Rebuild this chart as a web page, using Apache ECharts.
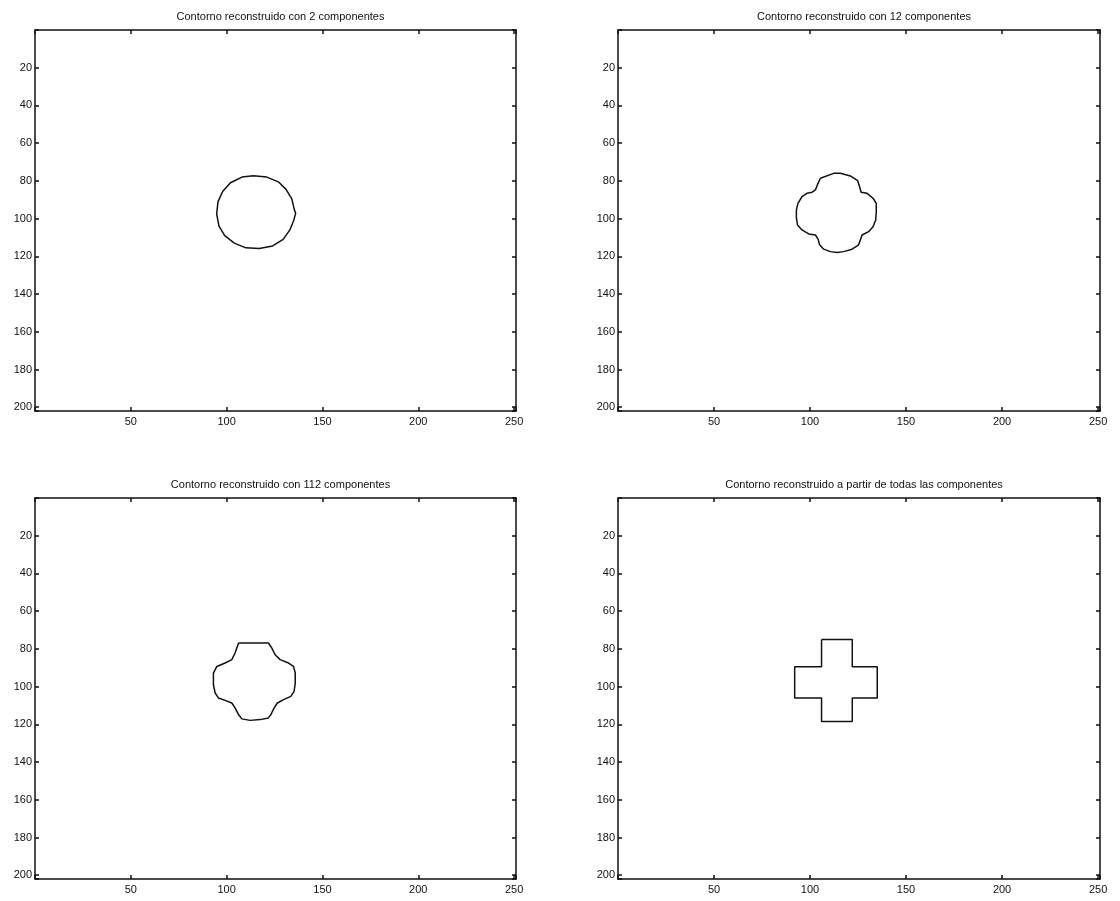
<!DOCTYPE html>
<html>
<head>
<meta charset="utf-8">
<title>Contornos reconstruidos</title>
<script src="https://cdn.jsdelivr.net/npm/echarts@6/dist/echarts.min.js"></script>
<style>
  html, body { margin: 0; padding: 0; background: #fff; }
  #chart { width: 1120px; height: 901px; }
</style>
</head>
<body>
<div id="chart"></div>
<script>
// titles of the 4 subplots
const titles = [
  'Contorno reconstruido con 2 componentes',
  'Contorno reconstruido con 12 componentes',
  'Contorno reconstruido con 112 componentes',
  'Contorno reconstruido a partir de todas las componentes'
];

// axis ranges (image coords, y goes down)
const xMin = 0, xMax = 251, xStep = 50;
const yMin = 0, yMax = 202, yStep = 20;

// contour points [x, y]
const contour2 = [
  [114, 77.3], [121, 78], [127, 80.5], [131, 84.5], [134, 89.5], [135.4, 95.5], [136, 97.2],
  [135, 101], [133, 106], [129.5, 111], [124, 114.5], [117, 115.8], [110, 115.5],
  [104, 113], [99, 109], [96, 104], [94.8, 97.5], [95.5, 91], [98, 85.5],
  [102, 81], [108, 78], [114, 77.3]
];
const contour12 = [
  [105.4, 78.6], [112.3, 76.0], [115.8, 76.0], [121.0, 77.4], [124.8, 79.9], [125.8, 83.1],
  [126.6, 86.0], [129.7, 86.6], [132.8, 89.2], [134.5, 91.9], [134.5, 96.3], [134.2, 100.7],
  [132.8, 104.3], [130.5, 106.9], [127.1, 108.7], [126.2, 111.3], [125.3, 113.9], [121.9, 116.2],
  [117.5, 117.5], [114.1, 118.0], [110.6, 117.5], [107.1, 116.2], [105.0, 113.9], [104.2, 110.9],
  [102.8, 108.7], [99.3, 108.1], [95.8, 106.0], [93.5, 103.4], [92.9, 99.8], [92.9, 95.4],
  [93.7, 91.9], [95.8, 88.4], [98.4, 86.6], [101.1, 86.0], [102.8, 84.8], [104.0, 81.7],
  [105.4, 78.6]
];
const contour112 = [
  [106.2, 76.9], [121.8, 76.9], [123.6, 79.6], [125.3, 83.1], [127.9, 85.7], [132.3, 87.5],
  [134.9, 89.3], [135.8, 92.8], [135.8, 98.1], [135.2, 102.5], [133.5, 105.2], [129.7, 106.9],
  [126.5, 108.7], [124.8, 111.3], [123.1, 114.8], [121.8, 116.6], [117.5, 117.5], [112.3, 117.9],
  [107.9, 117.1], [106.2, 114.8], [104.4, 111.3], [102.7, 108.7], [99.2, 107.3], [95.7, 106.0],
  [94.0, 103.4], [93.1, 99.0], [93.1, 92.8], [94.9, 89.3], [99.2, 87.5], [102.7, 85.7],
  [104.4, 82.2], [106.2, 76.9]
];
const contourAll = [
  [106, 75], [122, 75], [122, 89.5], [135, 89.5], [135, 106], [122, 106], [122, 118.5],
  [106, 118.5], [106, 106], [92, 106], [92, 89.5], [106, 89.5], [106, 75]
];
const contours = [contour2, contour12, contour112, contourAll];

// subplot boxes
const boxes = [
  { left: 35, top: 30, width: 481, height: 381 },
  { left: 618, top: 30, width: 482, height: 381 },
  { left: 35, top: 498, width: 481, height: 381 },
  { left: 618, top: 498, width: 482, height: 381 }
];

const font = "'Liberation Sans Narrow', 'Liberation Sans', Arial, sans-serif";
const lineStyle = { color: '#111', width: 1.5 };

const grid = [], xAxis = [], yAxis = [], title = [], series = [];

boxes.forEach((b, i) => {
  grid.push({ left: b.left, top: b.top, width: b.width, height: b.height, containLabel: false });
  title.push({
    text: titles[i],
    left: b.left + b.width / 2,
    top: b.top - 24,
    textAlign: 'center',
    textStyle: { fontFamily: font, fontSize: 11, fontWeight: 'normal', color: '#111' }
  });
  // bottom + top x axes (top one only for the ticks of the box)
  ['bottom', 'top'].forEach((pos, k) => {
    xAxis.push({
      type: 'value', gridIndex: i, position: pos,
      min: xMin, max: xMax, interval: xStep,
      axisLine: { show: true, onZero: false, lineStyle: lineStyle },
      axisTick: { show: true, inside: true, length: 4, lineStyle: lineStyle },
      axisLabel: {
        show: k === 0, margin: 5, color: '#111', fontFamily: font, fontSize: 11,
        formatter: v => (v > 0 && v % xStep === 0) ? v : ''
      },
      splitLine: { show: false }
    });
  });
  // left + right y axes
  ['left', 'right'].forEach((pos, k) => {
    yAxis.push({
      type: 'value', gridIndex: i, position: pos, inverse: true,
      min: yMin, max: yMax, interval: yStep,
      axisLine: { show: true, onZero: false, lineStyle: lineStyle },
      axisTick: { show: true, inside: true, length: 4, lineStyle: lineStyle },
      axisLabel: {
        show: k === 0, margin: 3, color: '#111', fontFamily: font, fontSize: 11,
        formatter: v => (v > 0 && v % yStep === 0) ? v : ''
      },
      splitLine: { show: false }
    });
  });
  series.push({
    type: 'line',
    xAxisIndex: i * 2,
    yAxisIndex: i * 2,
    data: contours[i],
    showSymbol: false,
    smooth: false,
    lineStyle: { color: '#111', width: 1.5 },
    animation: false
  });
});

const chart = echarts.init(document.getElementById('chart'));
chart.setOption({
  backgroundColor: '#fff',
  animation: false,
  title: title,
  grid: grid,
  xAxis: xAxis,
  yAxis: yAxis,
  series: series
});
window.addEventListener('resize', () => chart.resize());
</script>
</body>
</html>
